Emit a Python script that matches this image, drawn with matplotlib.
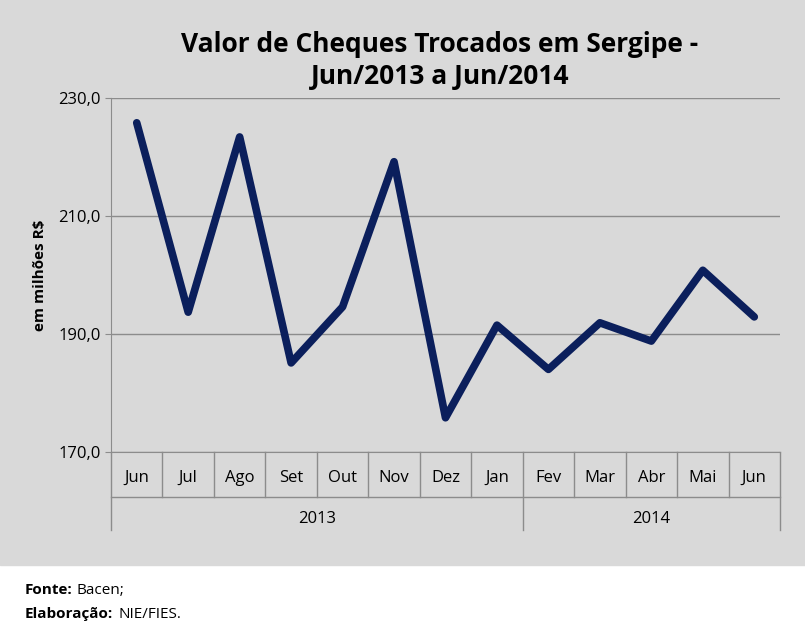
import matplotlib.pyplot as plt
from matplotlib.patches import Rectangle
import matplotlib.transforms as mtransforms

plt.rcParams['font.family'] = ['Open Sans', 'DejaVu Sans']

months = ['Jun', 'Jul', 'Ago', 'Set', 'Out', 'Nov', 'Dez', 'Jan', 'Fev', 'Mar', 'Abr', 'Mai', 'Jun']
values = [225.8, 193.7, 223.4, 185.1, 194.6, 219.2, 175.8, 191.5, 184.0, 191.9, 188.8, 200.8, 192.9]
years = ['2013', '2014']
year_spans = [(0, 7), (8, 12)]

fig = plt.figure(figsize=(8.05, 6.38), dpi=100)
fig.patches.append(Rectangle((0, 73 / 638), 1, 1, transform=fig.transFigure, color='#d9d9d9', zorder=-1))

ax = fig.add_axes([111 / 805, 186 / 638, 669 / 805, 354 / 638])
ax.set_facecolor('#d9d9d9')
x = list(range(len(months)))
ax.plot(x, values, color='#0b1f5c', linewidth=5.5, solid_joinstyle='round', solid_capstyle='round')
ax.set_xlim(-0.5, len(months) - 0.5)
ax.set_ylim(170, 230)
ax.set_yticks([170, 190, 210, 230])
ax.set_yticklabels(['170,0', '190,0', '210,0', '230,0'], fontsize=12)
ax.yaxis.grid(True, color='#8c8c8c', linewidth=1)
ax.set_axisbelow(True)
ax.set_xticks([])
for s in ['top', 'right']:
    ax.spines[s].set_visible(False)
ax.spines['left'].set_color('#8c8c8c')
ax.spines['bottom'].set_color('#8c8c8c')
ax.tick_params(axis='y', length=4, color='#8c8c8c')
ax.set_ylabel('em milhões R$', fontsize=11, fontweight='bold', labelpad=8)

tr = mtransforms.blended_transform_factory(ax.transData, ax.transAxes)
lc = '#8c8c8c'
for i, m in enumerate(months):
    ax.text(i, -0.073, m, transform=tr, ha='center', va='center', fontsize=12)
for b in range(len(months) + 1):
    xb = b - 0.5
    bottom = -0.22 if b in (0, 8, 13) else -0.127
    ax.plot([xb, xb], [0, bottom], transform=tr, color=lc, lw=1, clip_on=False)
ax.plot([-0.5, 12.5], [-0.127, -0.127], transform=tr, color=lc, lw=1, clip_on=False)
for yl, (a, b) in zip(years, year_spans):
    ax.text((a + b) / 2, -0.19, yl, transform=tr, ha='center', va='center', fontsize=12)

fig.text(440 / 805, 1 - 45 / 638, 'Valor de Cheques Trocados em Sergipe -', ha='center', va='center', fontsize=19, fontweight='bold')
fig.text(440 / 805, 1 - 76 / 638, 'Jun/2013 a Jun/2014', ha='center', va='center', fontsize=19, fontweight='bold')

fig.text(25 / 805, 1 - 590 / 638, 'Fonte:', fontsize=11, fontweight='bold', va='center')
fig.text(76 / 805, 1 - 590 / 638, 'Bacen;', fontsize=11, va='center')
fig.text(25 / 805, 1 - 614 / 638, 'Elaboração:', fontsize=11, fontweight='bold', va='center')
fig.text(118 / 805, 1 - 614 / 638, 'NIE/FIES.', fontsize=11, va='center')

fig.savefig('out.png', dpi=100, facecolor='white')
